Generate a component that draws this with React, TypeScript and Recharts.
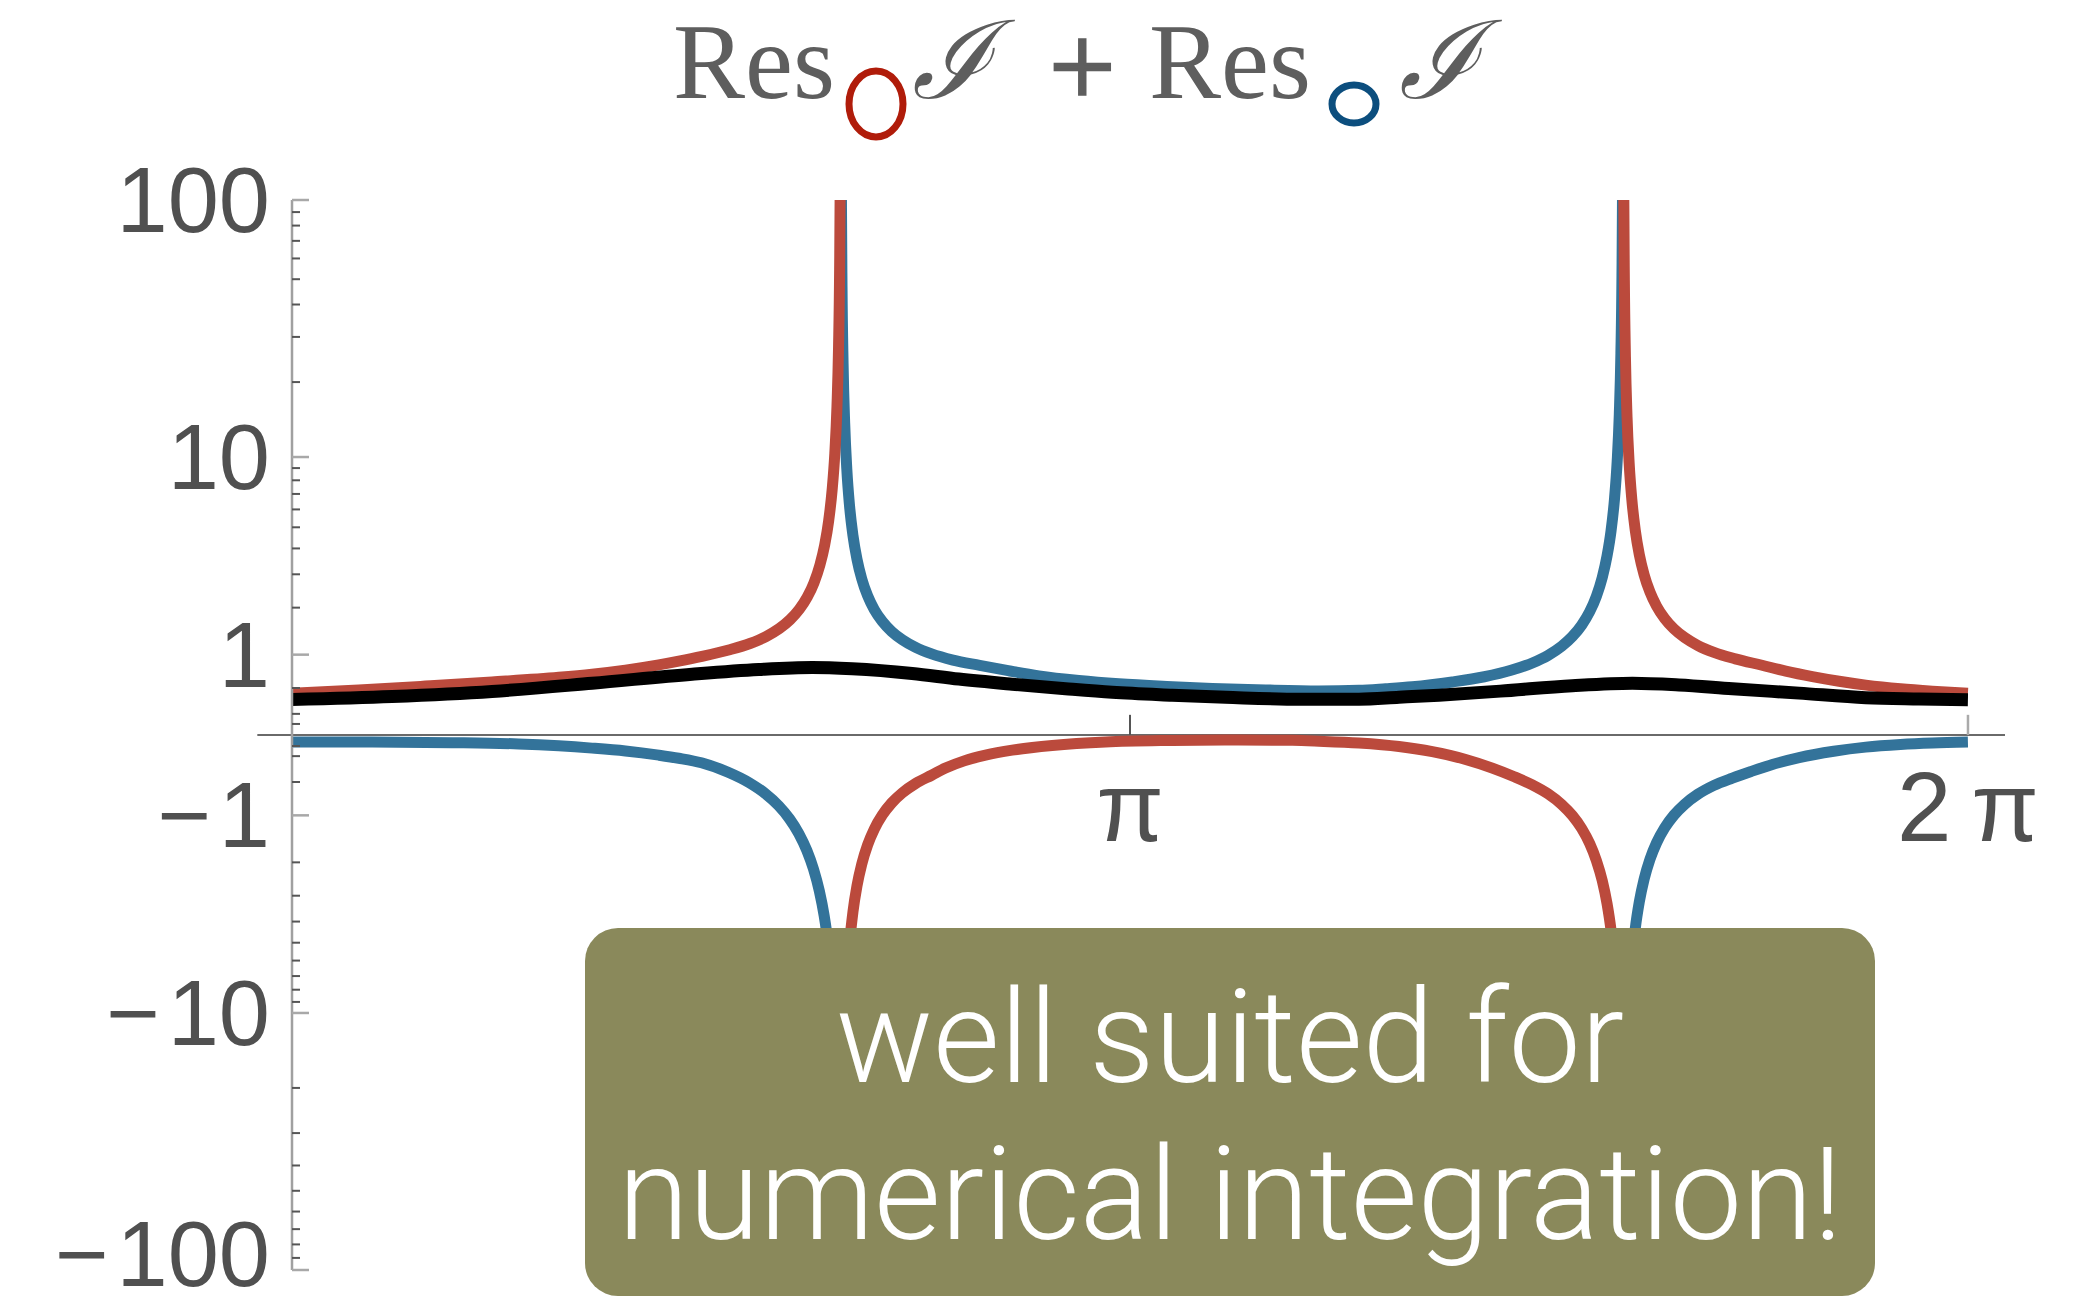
import { LineChart, Line, XAxis, YAxis, ReferenceLine } from "recharts";

// angle samples (radians) and values, one pair per branch
const redRiseT = [0, 0.25, 0.5, 0.75, 1.0, 1.125, 1.25, 1.375, 1.45, 1.537, 1.637, 1.717, 1.777, 1.827, 1.867, 1.902, 1.932, 1.957, 1.979, 1.997, 2.012, 2.025, 2.035, 2.043, 2.049, 2.053, 2.055, 2.056];
const redRiseV = [0.435, 0.475, 0.525, 0.58, 0.645, 0.69, 0.75, 0.83, 0.89, 0.97, 1.082, 1.202, 1.338, 1.505, 1.702, 1.957, 2.29, 2.72, 3.33, 4.15, 5.35, 7.29, 10.34, 15.93, 27.4, 54.3, 108.1, 215.6];

const redDipT = [2.059, 2.06, 2.062, 2.066, 2.072, 2.08, 2.09, 2.103, 2.118, 2.136, 2.158, 2.183, 2.213, 2.248, 2.288, 2.338, 2.398, 2.45, 2.52, 2.6, 2.7, 2.85, 3.05, 3.3, 3.55, 3.75, 3.85, 4.0, 4.15, 4.275, 4.4, 4.5, 4.58, 4.65, 4.71, 4.76, 4.8, 4.835, 4.865, 4.89, 4.912, 4.93, 4.945, 4.958, 4.968, 4.976, 4.982, 4.986, 4.988, 4.989];
const redDipV = [-164.9, -82.4, -41.2, -20.56, -11.72, -7.43, -5.09, -3.6, -2.68, -2.045, -1.58, -1.25, -0.995, -0.798, -0.647, -0.519, -0.415, -0.33, -0.25, -0.19, -0.14, -0.095, -0.062, -0.048, -0.043, -0.047, -0.055, -0.072, -0.105, -0.155, -0.235, -0.33, -0.43, -0.538, -0.664, -0.82, -1.003, -1.24, -1.55, -1.95, -2.51, -3.28, -4.39, -6.2, -9.04, -14.24, -24.95, -49.95, -99.95, -199.95];

const redFallT = [4.992, 4.993, 4.995, 4.999, 5.005, 5.013, 5.023, 5.036, 5.051, 5.069, 5.091, 5.116, 5.146, 5.181, 5.221, 5.271, 5.331, 5.411, 5.511, 5.6, 5.7, 5.8, 5.9, 6.03, 6.15, 6.283];
const redFallV = [197.5, 98.96, 49.7, 25.1, 14.53, 9.41, 6.62, 4.84, 3.74, 2.986, 2.43, 2.036, 1.731, 1.497, 1.317, 1.163, 1.039, 0.929, 0.825, 0.735, 0.655, 0.59, 0.538, 0.49, 0.46, 0.435];

const blueDipT = [0, 0.3, 0.6, 0.85, 1.0, 1.125, 1.25, 1.375, 1.45, 1.535, 1.635, 1.715, 1.775, 1.825, 1.865, 1.9, 1.93, 1.955, 1.977, 1.995, 2.01, 2.023, 2.033, 2.041, 2.047, 2.051, 2.053, 2.054];
const blueDipV = [-0.062, -0.063, -0.068, -0.08, -0.098, -0.12, -0.148, -0.19, -0.222, -0.271, -0.379, -0.511, -0.66, -0.843, -1.059, -1.34, -1.705, -2.177, -2.84, -3.75, -5.06, -7.19, -10.54, -16.67, -29.3, -58.8, -117.8, -235.8];

const blueArchT = [2.059, 2.06, 2.062, 2.066, 2.072, 2.08, 2.09, 2.103, 2.118, 2.136, 2.158, 2.183, 2.213, 2.248, 2.288, 2.338, 2.398, 2.478, 2.578, 2.68, 2.8, 2.95, 3.1, 3.28, 3.45, 3.65, 3.85, 4.0, 4.1, 4.2, 4.35, 4.47, 4.57, 4.65, 4.71, 4.76, 4.8, 4.835, 4.865, 4.89, 4.912, 4.93, 4.945, 4.958, 4.968, 4.976, 4.982, 4.986, 4.988, 4.989];
const blueArchV = [186, 93.2, 46.8, 23.65, 13.72, 8.9, 6.26, 4.59, 3.56, 2.845, 2.322, 1.951, 1.664, 1.443, 1.274, 1.129, 1.013, 0.909, 0.824, 0.745, 0.665, 0.6, 0.555, 0.52, 0.495, 0.475, 0.463, 0.47, 0.49, 0.515, 0.58, 0.653, 0.747, 0.862, 0.991, 1.15, 1.338, 1.582, 1.899, 2.309, 2.887, 3.68, 4.81, 6.66, 9.58, 14.9, 25.9, 51.5, 102.8, 205.3];

const blueRiseT = [4.992, 4.993, 4.995, 4.999, 5.005, 5.013, 5.023, 5.036, 5.051, 5.069, 5.091, 5.116, 5.146, 5.181, 5.221, 5.271, 5.331, 5.4, 5.47, 5.55, 5.65, 5.78, 5.9, 6.03, 6.15, 6.283];
const blueRiseV = [-194.97, -97.47, -48.72, -24.35, -13.9, -8.83, -6.06, -4.3, -3.22, -2.47, -1.92, -1.53, -1.228, -0.996, -0.818, -0.666, -0.544, -0.45, -0.37, -0.29, -0.215, -0.15, -0.11, -0.085, -0.071, -0.062];

const sumT = [0, 0.375, 0.75, 1.125, 1.5, 1.75, 1.95, 2.1, 2.325, 2.5, 2.7, 2.9, 3.075, 3.3, 3.5, 3.78, 4.0, 4.15, 4.3, 4.53, 4.8, 5.025, 5.2, 5.4, 5.65, 5.9, 6.1, 6.283];
const sumV = [0.358, 0.394, 0.456, 0.563, 0.69, 0.76, 0.79, 0.77, 0.7, 0.62, 0.55, 0.49, 0.445, 0.41, 0.385, 0.36, 0.362, 0.385, 0.41, 0.46, 0.53, 0.563, 0.54, 0.49, 0.435, 0.38, 0.365, 0.355];

const majorTicks = [-100, -10, -1, 1, 10, 100];
const minorTicks = [
  -90, -80, -70, -60, -50, -40, -30, -20, -9, -8, -7, -6, -5, -4, -3, -2, -0.5, -0.2, -0.1,
  0.1, 0.2, 0.5, 2, 3, 4, 5, 6, 7, 8, 9, 20, 30, 40, 50, 60, 70, 80, 90,
];
const yTicks = [...majorTicks, ...minorTicks].sort((a, b) => a - b);

const RED = "#bb4a3c";
const BLUE = "#33739a";
const GREY = "#505050";
const SANS = "'Liberation Sans', Arial, sans-serif";

const pts = (ts: number[], vs: number[]) => ts.map((t, i) => ({ t, v: vs[i] }));

function yLabel(v: number) {
  const a = String(Math.abs(v));
  return v < 0 ? "\u2212\u200a" + a : a;
}

function YTick(props: any) {
  const { x, y, payload } = props;
  const v = payload.value;
  const major = majorTicks.includes(v);
  return (
    <g>
      <line
        x1={x}
        x2={x + (major ? 17 : 8)}
        y1={y}
        y2={y}
        stroke={major ? "#a8a8a8" : "#555"}
        strokeWidth={major ? 2.5 : 2}
      />
      {major && (
        <text x={x - 22} y={y + (v === -100 ? 16 : 32)} textAnchor="end" fontSize={92} fill={GREY} fontFamily={SANS}>
          {yLabel(v)}
        </text>
      )}
    </g>
  );
}

function piLabel(text: string) {
  return (p: any) => {
    const vb = p.viewBox || {};
    const x = vb.x1 != null ? vb.x1 : vb.x + (vb.width || 0) / 2;
    const yb = vb.y2 != null ? Math.max(vb.y1, vb.y2) : vb.y + (vb.height || 0);
    return (
      <text x={x} y={yb + 106} textAnchor="middle" fontSize={98} fill={GREY} fontFamily={SANS}>
        {text}
      </text>
    );
  };
}

const lineProps = {
  dataKey: "v",
  type: "monotone" as const,
  dot: false,
  activeDot: false,
  isAnimationActive: false,
};

export default function App() {
  return (
    <div style={{ position: "absolute", left: 0, top: 0, width: 2100, height: 1311, background: "#fff" }}>
      <div style={{ position: "absolute", left: 0, top: 0 }}>
        <LineChart width={2100} height={1311} margin={{ top: 200, right: 95, bottom: 41, left: 0 }}>
          <XAxis dataKey="t" type="number" domain={[0, 6.422]} allowDataOverflow hide />
          <YAxis
            type="number"
            scale="symlog"
            domain={[-100, 100]}
            allowDataOverflow
            width={292}
            ticks={yTicks}
            interval={0}
            tickSize={0}
            tickMargin={0}
            tickLine={false}
            axisLine={{ stroke: "#a0a0a0", strokeWidth: 2.5 }}
            tick={<YTick />}
          />
          <ReferenceLine
            segment={[{ x: -0.13, y: 0 }, { x: 6.422, y: 0 }]}
            ifOverflow="visible"
            stroke="#6a6a6a"
            strokeWidth={2}
          />
          <ReferenceLine
            segment={[{ x: Math.PI, y: 0 }, { x: Math.PI, y: 0.19 }]}
            ifOverflow="visible"
            stroke="#555"
            strokeWidth={2}
            label={{ content: piLabel("π") }}
          />
          <ReferenceLine
            segment={[{ x: 2 * Math.PI, y: 0 }, { x: 2 * Math.PI, y: 0.19 }]}
            ifOverflow="visible"
            stroke="#aaa"
            strokeWidth={2.5}
            label={{ content: piLabel("2\u2009π") }}
          />
          <Line {...lineProps} data={pts(blueDipT, blueDipV)} stroke={BLUE} strokeWidth={11} />
          <Line {...lineProps} data={pts(blueArchT, blueArchV)} stroke={BLUE} strokeWidth={11} />
          <Line {...lineProps} data={pts(blueRiseT, blueRiseV)} stroke={BLUE} strokeWidth={11} />
          <Line {...lineProps} data={pts(redRiseT, redRiseV)} stroke={RED} strokeWidth={11} />
          <Line {...lineProps} data={pts(redDipT, redDipV)} stroke={RED} strokeWidth={11} />
          <Line {...lineProps} data={pts(redFallT, redFallV)} stroke={RED} strokeWidth={11} />
          <Line {...lineProps} data={pts(sumT, sumV)} stroke="#000" strokeWidth={13} />
        </LineChart>
      </div>
      <svg width={2100} height={1311} style={{ position: "absolute", left: 0, top: 0, pointerEvents: "none" }}>
        <g fill="#5e5e5e" fontFamily="'Liberation Serif', 'DejaVu Serif', serif" fontSize={108}>
          <text x={673} y={98}>Res</text>
          <text x={912} y={98} fontStyle="italic">ℐ</text>
          <text x={1049} y={107} fontSize={118} stroke="#5e5e5e" strokeWidth={2.5}>+</text>
          <text x={1149} y={98}>Res</text>
          <text x={1399} y={98} fontStyle="italic">ℐ</text>
        </g>
        <ellipse cx={876} cy={104} rx={27} ry={33} fill="none" stroke="#b01c0a" strokeWidth={7} />
        <ellipse cx={1354} cy={104} rx={22} ry={19} fill="none" stroke="#0c4e7e" strokeWidth={7} />
        <rect x={585} y={928} width={1290} height={368} rx={33} fill="#8a895b" />
        <g fill="#fff" fontFamily="Roboto, 'Liberation Sans', sans-serif" fontWeight={300} fontSize={129} textAnchor="middle">
          <text x={1230} y={1082}>well suited for</text>
          <text x={1230} y={1239}>numerical integration!</text>
        </g>
      </svg>
    </div>
  );
}
